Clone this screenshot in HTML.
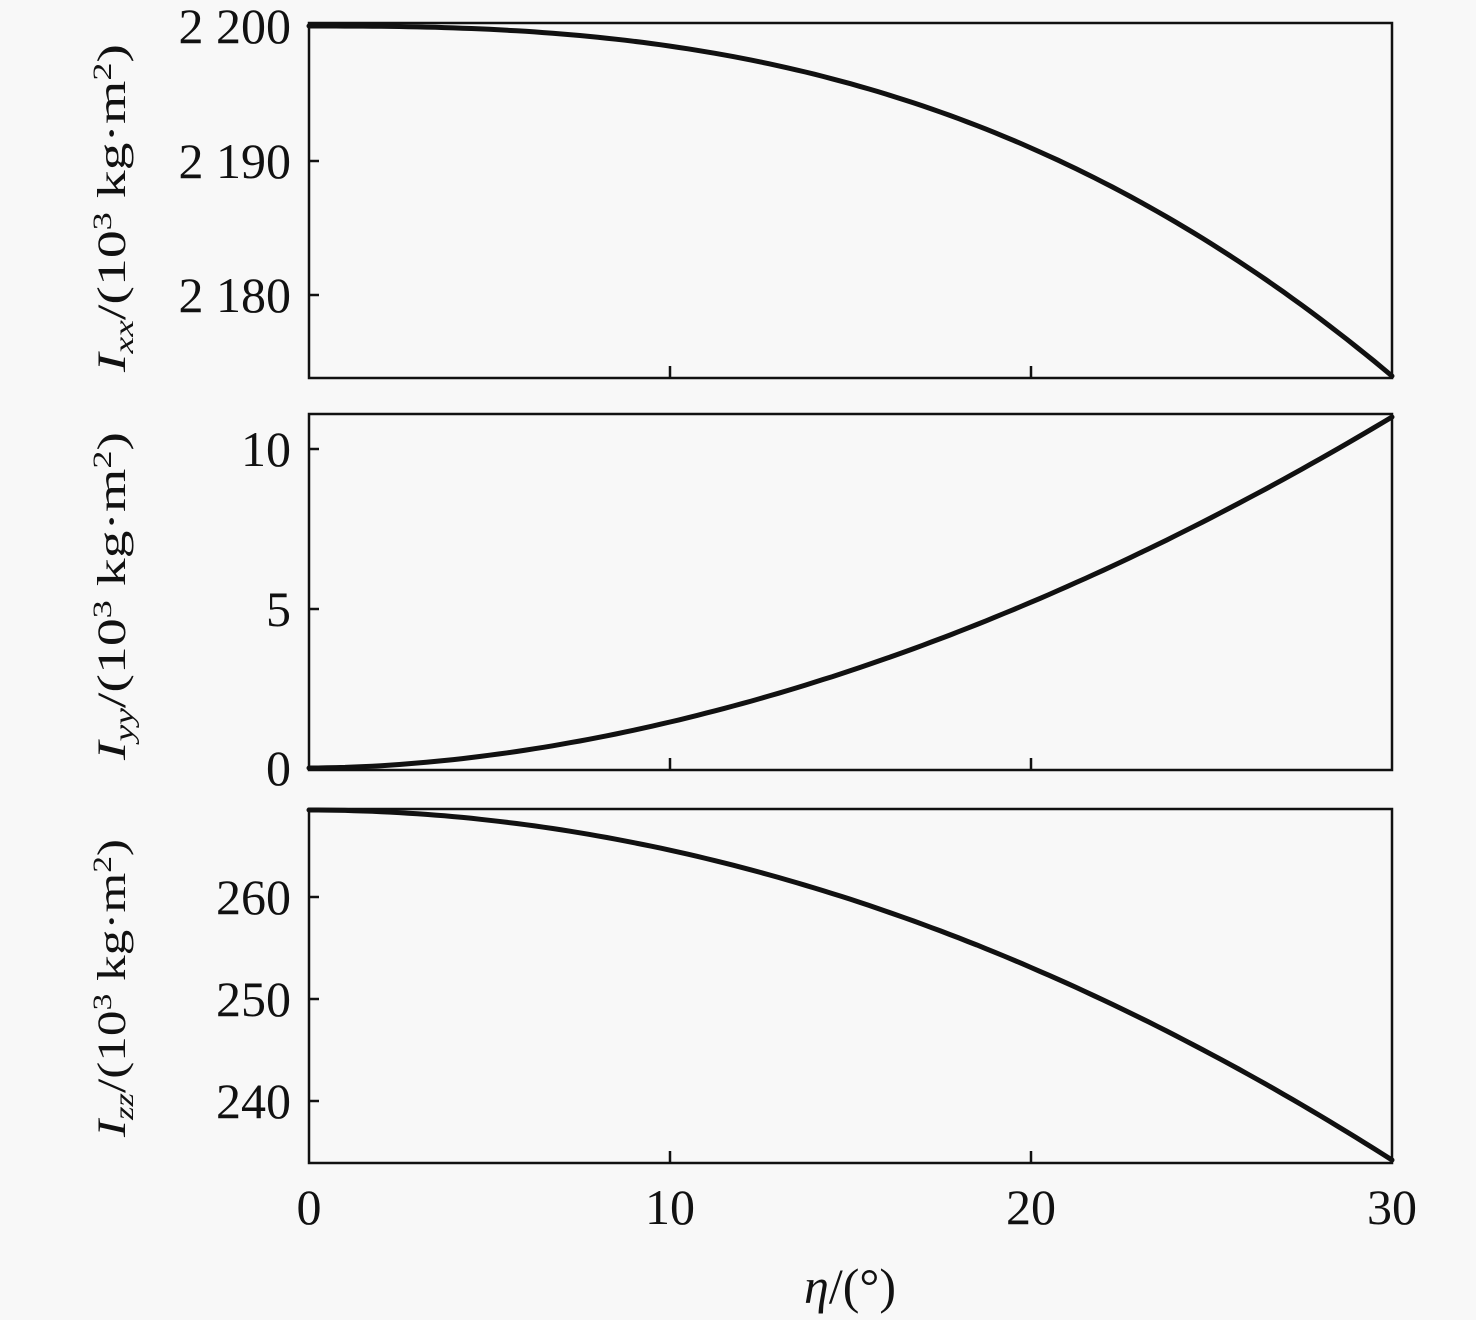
<!DOCTYPE html>
<html><head><meta charset="utf-8"><style>
html,body{margin:0;padding:0;background:#f8f8f8;}
svg{display:block;font-family:"Liberation Serif",serif;}
</style></head><body>
<svg id="s" width="1476" height="1320" viewBox="0 0 1476 1320" xmlns="http://www.w3.org/2000/svg">
<rect width="1476" height="1320" fill="#f8f8f8"/>
<g fill="none" stroke="#111" stroke-width="2.5">
<rect x="309" y="23" width="1083" height="355"/>
<rect x="309" y="414" width="1083" height="356"/>
<rect x="309" y="809" width="1083" height="354"/>
<path d="M670 378v-12M1031 378v-12M670 770v-12M1031 770v-12M670 1163v-12M1031 1163v-12
M309 161h10M309 295h10M309 449h10M309 609h10M309 897h10M309 999h10M309 1101h10"/>
</g>
<g id="curves" fill="none" stroke="#111" stroke-width="5" stroke-linecap="round"></g>
<g font-size="50" fill="#111" text-anchor="end">
<text x="291" y="43">2 200</text>
<text x="291" y="178">2 190</text>
<text x="291" y="312">2 180</text>
<text x="291" y="466">10</text>
<text x="291" y="626">5</text>
<text x="291" y="785">0</text>
<text x="291" y="914">260</text>
<text x="291" y="1016">250</text>
<text x="291" y="1118">240</text>
</g>
<g font-size="50" fill="#111" text-anchor="middle">
<text x="309" y="1224">0</text>
<text x="670" y="1224">10</text>
<text x="1031" y="1224">20</text>
<text x="1392" y="1224">30</text>
<text x="850" y="1303"><tspan font-style="italic">η</tspan>/(°)</text>
</g>
<g font-size="40" fill="#111">
<text transform="translate(125,372) rotate(-90)" textLength="328" lengthAdjust="spacingAndGlyphs"><tspan font-style="italic">I</tspan><tspan font-style="italic" font-size="27" dy="8">xx</tspan><tspan dy="-8">/(10</tspan><tspan font-size="26" dy="-14">3</tspan><tspan dy="14"> kg·m</tspan><tspan font-size="26" dy="-14">2</tspan><tspan dy="14">)</tspan></text>
<text transform="translate(125,760) rotate(-90)" textLength="328" lengthAdjust="spacingAndGlyphs"><tspan font-style="italic">I</tspan><tspan font-style="italic" font-size="27" dy="8">yy</tspan><tspan dy="-8">/(10</tspan><tspan font-size="26" dy="-14">3</tspan><tspan dy="14"> kg·m</tspan><tspan font-size="26" dy="-14">2</tspan><tspan dy="14">)</tspan></text>
<text transform="translate(125,1137) rotate(-90)" textLength="298" lengthAdjust="spacingAndGlyphs"><tspan font-style="italic">I</tspan><tspan font-style="italic" font-size="27" dy="8">zz</tspan><tspan dy="-8">/(10</tspan><tspan font-size="26" dy="-14">3</tspan><tspan dy="14"> kg·m</tspan><tspan font-size="26" dy="-14">2</tspan><tspan dy="14">)</tspan></text>
</g>
</svg>
<script>
function path(f){var d="";for(var i=0;i<=120;i++){var t=i/120;var x=309+1083*t;d+=(i?"L":"M")+x.toFixed(1)+" "+f(t).toFixed(1);}return d;}
var g=document.getElementById("curves");
var fs=[function(t){return 26+(376-26)*Math.pow(t,2.6);},
function(t){return 768-(768-417)*Math.pow(t,1.85);},
function(t){return 810+(1160-810)*Math.pow(t,1.97);}];
fs.forEach(function(f){var p=document.createElementNS("http://www.w3.org/2000/svg","path");p.setAttribute("d",path(f));g.appendChild(p);});
</script>
</body></html>
